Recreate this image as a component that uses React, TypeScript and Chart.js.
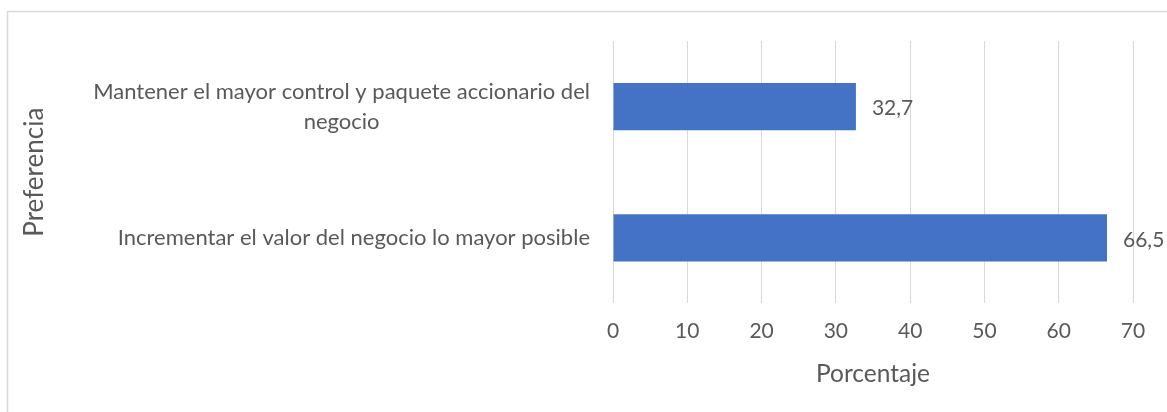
import { useEffect, useRef } from "react";
import { Chart, registerables } from "chart.js";

Chart.register(...registerables);

// ---- Data ----
const categoryLines: string[][] = [
  ["Mantener el mayor control y paquete accionario del", "negocio"],
  ["Incrementar el valor del negocio lo mayor posible"],
];
const values: number[] = [32.7, 66.5];
const xMin = 0;
const xMax = 70;
const xStep = 10;
const xTitle = "Porcentaje";
const yTitle = "Preferencia";

// ---- Styles ----
const FONT = "Lato, 'Open Sans', sans-serif";
const TEXT = "#595959";
const BAR = "#4472C4";
const GRID = "#D9D9D9";
const LABEL_SIZE = 22;
const TICK_SIZE = 21;
const DATA_SIZE = 21;
const X_TITLE_SIZE = 24.5;
const Y_TITLE_SIZE = 26;

const fmt = (v: number) => v.toFixed(1).replace(".", ",");

const framePlugin = {
  id: "frame",
  beforeDraw(chart: any) {
    const ctx = chart.ctx;
    ctx.save();
    ctx.strokeStyle = GRID;
    ctx.lineWidth = 1.5;
    ctx.strokeRect(7.5, 11.5, 4000, 4000);
    ctx.restore();
  },
};

const categoryLabelPlugin = {
  id: "catLabels",
  afterDraw(chart: any) {
    const ctx = chart.ctx;
    const y = chart.scales.y;
    ctx.save();
    ctx.font = `${LABEL_SIZE}px ${FONT}`;
    ctx.fillStyle = TEXT;
    ctx.textAlign = "center";
    ctx.textBaseline = "middle";
    const right = chart.chartArea.left - 23;
    const lh = 30;
    categoryLines.forEach((lines, i) => {
      const cy = y.getPixelForTick(i);
      const w = Math.max(...lines.map((l) => ctx.measureText(l).width));
      const cx = right - w / 2;
      lines.forEach((l, j) => {
        ctx.fillText(l, cx, cy + (j - (lines.length - 1) / 2) * lh);
      });
    });
    ctx.restore();
  },
};

const dataLabelPlugin = {
  id: "dataLabels",
  afterDatasetsDraw(chart: any) {
    const ctx = chart.ctx;
    const meta = chart.getDatasetMeta(0);
    ctx.save();
    ctx.font = `${DATA_SIZE}px ${FONT}`;
    ctx.fillStyle = TEXT;
    ctx.textAlign = "left";
    ctx.textBaseline = "middle";
    meta.data.forEach((el: any, i: number) => {
      ctx.fillText(fmt(values[i]), el.x + 16, el.y + 2);
    });
    ctx.restore();
  },
};

export default function App() {
  const ref = useRef<HTMLCanvasElement>(null);

  useEffect(() => {
    if (!ref.current) return;
    const chart = new Chart(ref.current, {
      type: "bar",
      data: {
        labels: categoryLines,
        datasets: [
          {
            data: values,
            backgroundColor: BAR,
            borderWidth: 0,
            categoryPercentage: 0.36,
            barPercentage: 1,
          },
        ],
      },
      options: {
        indexAxis: "y",
        animation: false,
        responsive: false,
        layout: { padding: { left: 8, right: 34, top: 41, bottom: 23 } },
        plugins: {
          legend: { display: false },
          tooltip: { enabled: false },
        },
        scales: {
          x: {
            min: xMin,
            max: xMax,
            ticks: {
              stepSize: xStep,
              color: TEXT,
              font: { family: FONT, size: TICK_SIZE },
              padding: 15.5,
            },
            grid: { color: GRID, lineWidth: 1, drawTicks: false },
            border: { display: false },
            title: {
              display: true,
              text: xTitle,
              color: TEXT,
              font: { family: FONT, size: X_TITLE_SIZE },
              padding: { top: 0, bottom: 0 },
            },
          },
          y: {
            ticks: { display: false },
            grid: { display: false, drawTicks: false },
            border: { display: false },
            title: {
              display: true,
              text: yTitle,
              color: TEXT,
              font: { family: FONT, size: Y_TITLE_SIZE },
              padding: { top: 11, bottom: 0 },
            },
            afterFit(scale: any) {
              scale.width = 605;
            },
          },
        },
      },
      plugins: [framePlugin, categoryLabelPlugin, dataLabelPlugin],
    });
    return () => chart.destroy();
  }, []);

  return (
    <div
      style={{
        position: "fixed",
        left: 0,
        top: 0,
        width: 1167,
        height: 412,
        overflow: "hidden",
        background: "#fff",
      }}
    >
      <canvas ref={ref} width={1167} height={412} style={{ display: "block" }} />
    </div>
  );
}
